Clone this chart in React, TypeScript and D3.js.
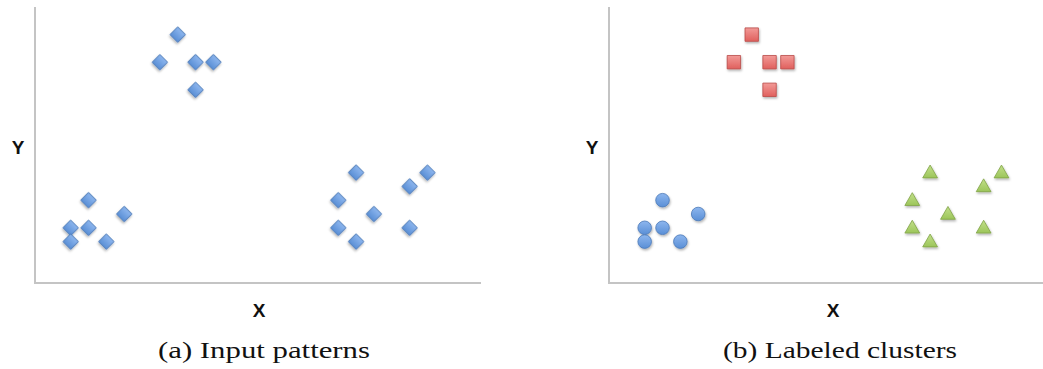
import React from "react";
import * as d3 from "d3";

// Point coordinates in data units (x: 0..25, y: 0..20)
const clusterTopX = [8, 7, 9, 10, 9];
const clusterTopY = [18, 16, 16, 16, 14];
const clusterLeftX = [3, 5, 2, 3, 2, 4];
const clusterLeftY = [6, 5, 4, 4, 3, 3];
const clusterRightX = [18, 22, 21, 17, 19, 17, 21, 18];
const clusterRightY = [8, 8, 7, 6, 5, 4, 4, 3];

const panelCaptions = ["(a) Input patterns", "(b) Labeled clusters"];
const axisLabels = ["X", "Y"];

const W = 1043;
const H = 369;

type Pt = { x: number; y: number };
const zipPts = (xs: number[], ys: number[]): Pt[] => xs.map((x, i) => ({ x, y: ys[i] }));

const topPts = zipPts(clusterTopX, clusterTopY);
const leftPts = zipPts(clusterLeftX, clusterLeftY);
const rightPts = zipPts(clusterRightX, clusterRightY);

const palette = {
  blue: { light: "#8db6ee", base: "#5a8fd6", edge: "#4a78b8" },
  red: { light: "#f29a97", base: "#e0605d", edge: "#b94a47" },
  green: { light: "#c2e08a", base: "#9cc55a", edge: "#7fa245" },
};

type Shape = "diamond" | "circle" | "square" | "triangle";

function markerPath(shape: Shape): string {
  if (shape === "circle") return d3.symbol(d3.symbolCircle, 145)()!;
  if (shape === "square" || shape === "diamond") return d3.symbol(d3.symbolSquare, shape === "square" ? 180 : 118)()!;
  return d3.symbol(d3.symbolTriangle, 95)()!;
}

function Panel({
  ox,
  axisEnd,
  caption,
  captionX,
  captionLen,
  groups,
}: {
  ox: number;
  axisEnd: number;
  caption: string;
  captionX: number;
  captionLen: number;
  groups: { pts: Pt[]; shape: Shape; color: keyof typeof palette }[];
}) {
  const x = d3.scaleLinear().domain([0, 25]).range([ox, ox + 446]);
  const y = d3.scaleLinear().domain([0, 20]).range([283, 7]);
  const x0 = x(0);
  const y0 = y(0);
  return (
    <g>
      <line x1={x0} y1={y(20)} x2={x0} y2={y0} stroke="#c4c4c4" strokeWidth={2} />
      <line x1={x0 - 1} y1={y0} x2={axisEnd} y2={y0} stroke="#c4c4c4" strokeWidth={2} />
      {groups.map((g, gi) =>
        g.pts.map((p, i) => (
          <path
            key={`${gi}-${i}`}
            d={markerPath(g.shape)}
            transform={`translate(${x(p.x)},${y(p.y)})${g.shape === "diamond" ? " rotate(45)" : g.shape === "triangle" ? " translate(0,1)" : ""}`}
            fill={`url(#grad-${g.color})`}
            stroke={palette[g.color].edge}
            strokeWidth={0.8}
            filter="url(#shadow)"
          />
        ))
      )}
      <text
        x={ox - 17}
        y={154}
        textAnchor="middle"
        fontFamily="'Liberation Sans', Arial, sans-serif"
        fontWeight="bold"
        fontSize={19}
        fill="#111"
      >
        {axisLabels[1]}
      </text>
      <text
        x={ox + 224}
        y={317}
        textAnchor="middle"
        fontFamily="'Liberation Sans', Arial, sans-serif"
        fontWeight="bold"
        fontSize={19}
        fill="#111"
      >
        {axisLabels[0]}
      </text>
      <text
        x={captionX}
        y={358}
        textAnchor="middle"
        fontFamily="'Liberation Serif', 'Times New Roman', serif"
        fontSize={24}
        textLength={captionLen}
        lengthAdjust="spacingAndGlyphs"
        fill="#111"
      >
        {caption}
      </text>
    </g>
  );
}

export default function App() {
  return (
    <svg
      width={W}
      height={H}
      viewBox={`0 0 ${W} ${H}`}
      style={{ position: "absolute", left: 0, top: 0, background: "#fff" }}
    >
      <defs>
        {(Object.keys(palette) as (keyof typeof palette)[]).map((k) => (
          <linearGradient key={k} id={`grad-${k}`} x1="0" y1="0" x2="0" y2="1">
            <stop offset="0%" stopColor={palette[k].light} />
            <stop offset="100%" stopColor={palette[k].base} />
          </linearGradient>
        ))}
        <filter id="shadow" x="-50%" y="-50%" width="200%" height="200%">
          <feDropShadow dx={0.8} dy={1.6} stdDeviation={1.3} floodColor="#000" floodOpacity={0.3} />
        </filter>
      </defs>
      <rect width={W} height={H} fill="#fff" />
      <Panel
        ox={35}
        axisEnd={481}
        caption={panelCaptions[0]}
        captionX={264}
        captionLen={212}
        groups={[
          { pts: topPts, shape: "diamond", color: "blue" },
          { pts: leftPts, shape: "diamond", color: "blue" },
          { pts: rightPts, shape: "diamond", color: "blue" },
        ]}
      />
      <Panel
        ox={609}
        axisEnd={1043}
        caption={panelCaptions[1]}
        captionX={840}
        captionLen={234}
        groups={[
          { pts: topPts, shape: "square", color: "red" },
          { pts: leftPts, shape: "circle", color: "blue" },
          { pts: rightPts, shape: "triangle", color: "green" },
        ]}
      />
    </svg>
  );
}
